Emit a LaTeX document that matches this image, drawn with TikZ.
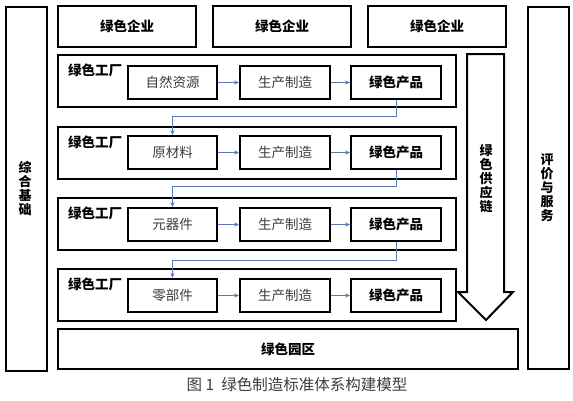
\documentclass[tikz,border=0pt]{standalone}
\usepackage{fontspec}
\setmainfont{Noto Sans CJK SC}
\usetikzlibrary{arrows.meta}
\definecolor{linkblue}{RGB}{88,122,176}
\definecolor{txtgray}{RGB}{60,60,60}
\tikzset{
  box/.style={draw=black, line width=2pt, fill=white, anchor=north west, inner sep=0pt},
  bl/.style={font=\fontsize{13.5}{14}\selectfont\bfseries, text=black},
  pl/.style={font=\fontsize{13.5}{14}\selectfont, text=txtgray},
  vt/.style={font=\fontsize{13}{14}\selectfont\bfseries, align=center, text=black},
  conn/.style={draw=linkblue, line width=0.7pt, -{Stealth[length=5pt,width=4pt]}},
}
\begin{document}
\begin{tikzpicture}[x=1pt,y=-1pt]
\useasboundingbox (0,0) rectangle (573,400);
% side columns
\node[box, minimum width=41pt, minimum height=364pt] (base) at (5,6) {};
\node[vt] at (25,188) {综\\合\\基\\础};
\node[box, minimum width=41pt, minimum height=362pt] (eval) at (527,6) {};
\node[vt] at (547,188) {评\\价\\与\\服\\务};
% enterprises
\node[box, minimum width=138pt, minimum height=41pt, bl] (e1) at (57,5) {绿色企业};
\node[box, minimum width=138pt, minimum height=41pt, bl] (e2) at (212,5) {绿色企业};
\node[box, minimum width=138pt, minimum height=41pt, bl] (e3) at (367,5) {绿色企业};
% factories
\foreach \i/\t in {1/54,2/126,3/197,4/268}{
  \node[box, minimum width=398pt, minimum height=52pt] (f\i) at (57,\t) {};
  \node[bl, anchor=north west, inner sep=0pt] (fl\i) at (68,\t+10) {绿色工厂};
}
% inner boxes
\foreach \i/\t/\src in {1/65/自然资源,2/135/原材料,3/207/元器件,4/278/零部件}{
  \node[box, minimum width=89pt, minimum height=33pt, pl] (a\i) at (127,\t) {\src};
  \node[box, minimum width=90pt, minimum height=33pt, pl] (b\i) at (239,\t) {生产制造};
  \node[box, minimum width=90pt, minimum height=33pt, bl] (c\i) at (350,\t) {绿色产品};
  \draw[conn] (a\i.east) -- (b\i.west);
  \draw[conn] (b\i.east) -- (c\i.west);
}
\draw[conn] (c1.south) -- ++(0,16) -| (a2.north);
\draw[conn] (c2.south) -- ++(0,16) -| (a3.north);
\draw[conn] (c3.south) -- ++(0,18) -| (a4.north);
% park
\node[box, minimum width=460pt, minimum height=40pt, bl] (park) at (57,328) {绿色园区};
% supply chain block arrow
\draw[line width=2pt, fill=white, line join=miter] (467,54) -- (504,54) -- (504,292) -- (513,292) -- (486,320) -- (458,292) -- (467,292) -- cycle;
\node[vt] (sc) at (486,179) {绿\\色\\供\\应\\链};
% caption
\node[font=\fontsize{15.5}{16}\selectfont, text=txtgray] (cap) at (297,385) {图 1\ \ 绿色制造标准体系构建模型};
\end{tikzpicture}
\end{document}
